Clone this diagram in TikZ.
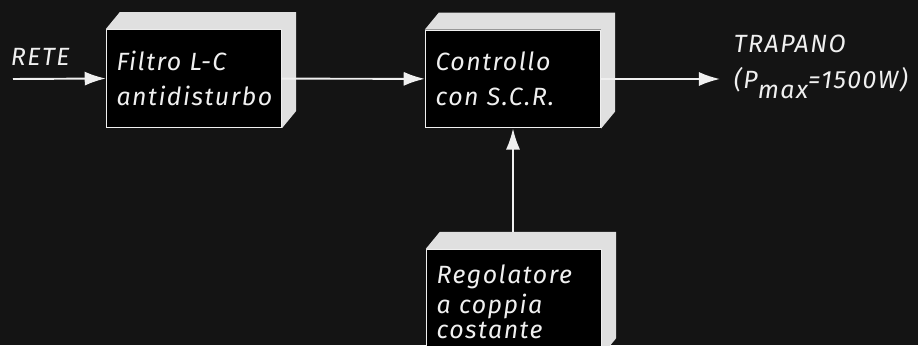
\documentclass[tikz,border=0pt]{standalone}
\usepackage{fontspec}
\setmainfont{Fira Sans}
\newfontfamily\scritta[LetterSpace=6]{Fira Sans}
\usetikzlibrary{positioning,arrows.meta}
\definecolor{fondo}{HTML}{141414}
\definecolor{faccia}{HTML}{E0E0E0}
\definecolor{tratto}{HTML}{F0F0F0}
\tikzset{every picture/.style={line width=1.1pt}}

\begin{document}
\begin{tikzpicture}[x=0.02cm, y=-0.02cm, >={Latex[length=12pt,width=8pt]},
    font=\scritta\itshape\fontsize{14.2}{20}\selectfont, text=tratto,
    blocco/.style={draw=tratto, line width=0.8pt, fill=black, minimum width=3.44cm,
        minimum height=1.95cm, text width=3.1cm, inner xsep=0.2cm, align=left},
    etichetta/.style={inner sep=0pt, anchor=base west}]
        % sfondo scuro; il terzo blocco esce dal bordo inferiore
        \useasboundingbox (0,0) rectangle (918,345);
        \fill[fondo] (0,0) rectangle (918,345);
        \clip (0,0) rectangle (918,345);
        % blocchi
        \node[blocco] (filtro) at (194,78.5) {Filtro L-C\\antidisturbo};
        \node[blocco] (scr) at (513,79) {Controllo\\con S.C.R.};
        \node[blocco, minimum height=2.1cm] (reg) at (514,302) {Regolatore\\[-3pt]a coppia\\[-6pt]costante};
        % facce in rilievo (sopra e a destra)
        \foreach \b in {filtro,scr,reg} {
            \fill[faccia] (\b.north west) -- ++(14,-17) -- ([shift={(14,-17)}]\b.north east)
                -- ([shift={(14,-17)}]\b.south east) -- (\b.south east) -- (\b.north east) -- cycle;
        }
        % collegamenti
        \coordinate (rete) at (13,79);
        \coordinate (uscita) at (720,79);
        \draw[->, tratto] (rete) -- (filtro.west);
        \draw[->, tratto] (filtro) -- (scr);
        \draw[->, tratto] (scr.east) -- (uscita);
        \draw[->, tratto] ([shift={(-1,-17)}]reg.north) -- (scr.south);
        % scritte
        \node[etichetta] (lrete) at (10,65) {RETE};
        \node[etichetta] (carico) at (733,52) {TRAPANO};
        \node[etichetta] (pmax) at (733,88) {(P\raisebox{-6pt}{max}=1500W)};
    \end{tikzpicture}
\end{document}
